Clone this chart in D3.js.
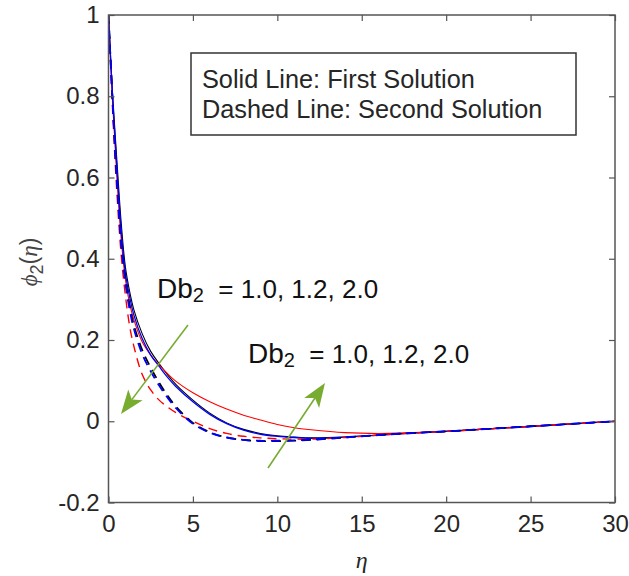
<!DOCTYPE html>
<html>
<head>
<meta charset="utf-8">
<script src="https://cdn.jsdelivr.net/npm/d3@7"></script>
<style>
  html, body { margin: 0; padding: 0; background: #fff; }
  svg { display: block; }
</style>
</head>
<body>
<svg id="chart" width="629" height="576"></svg>
<script>
// ---------- data ----------
const eta = [0, 0.25, 0.5, 0.75, 1, 1.25, 1.5, 2, 2.5, 3, 3.5, 4, 5, 6, 7, 8, 9, 10, 11, 12, 14, 16, 18, 20, 22, 24, 26, 28, 30];

// First solution (solid lines)
const solidDb10 = [1, 0.80, 0.64, 0.49, 0.38, 0.320, 0.275, 0.215, 0.172, 0.142, 0.114, 0.090, 0.052, 0.020, -0.004, -0.020, -0.030, -0.036, -0.039, -0.041, -0.039, -0.034, -0.029, -0.025, -0.020, -0.015, -0.010, -0.005, 0];
const solidDb12 = [1, 0.79, 0.62, 0.47, 0.365, 0.307, 0.262, 0.203, 0.163, 0.135, 0.108, 0.085, 0.048, 0.017, -0.006, -0.022, -0.032, -0.037, -0.040, -0.042, -0.039, -0.034, -0.029, -0.025, -0.020, -0.015, -0.010, -0.005, 0];
const solidDb20 = [1, 0.78, 0.60, 0.45, 0.350, 0.290, 0.250, 0.195, 0.163, 0.138, 0.117, 0.098, 0.070, 0.048, 0.030, 0.015, 0.003, -0.008, -0.016, -0.021, -0.028, -0.030, -0.028, -0.025, -0.020, -0.015, -0.010, -0.005, 0];

// Second solution (dashed lines)
const dashDb10 = [1, 0.78, 0.59, 0.44, 0.350, 0.285, 0.237, 0.175, 0.132, 0.095, 0.063, 0.036, -0.004, -0.027, -0.040, -0.046, -0.049, -0.049, -0.048, -0.046, -0.040, -0.034, -0.029, -0.025, -0.020, -0.015, -0.010, -0.005, 0];
const dashDb12 = [1, 0.78, 0.59, 0.44, 0.340, 0.275, 0.228, 0.165, 0.123, 0.088, 0.058, 0.032, -0.006, -0.028, -0.040, -0.046, -0.048, -0.048, -0.047, -0.045, -0.040, -0.034, -0.029, -0.025, -0.020, -0.015, -0.010, -0.005, 0];
const dashDb20 = [1, 0.76, 0.56, 0.41, 0.310, 0.235, 0.185, 0.115, 0.077, 0.052, 0.035, 0.021, 0.000, -0.018, -0.030, -0.037, -0.041, -0.043, -0.044, -0.044, -0.040, -0.034, -0.029, -0.025, -0.020, -0.015, -0.010, -0.005, 0];

const xTicks = [0, 5, 10, 15, 20, 25, 30];
const yTicks = [-0.2, 0, 0.2, 0.4, 0.6, 0.8, 1];
const yTickLabels = ["-0.2", "0", "0.2", "0.4", "0.6", "0.8", "1"];
const legendLines = ["Solid Line: First Solution", "Dashed Line: Second Solution"];
const annotationValues = "1.0, 1.2, 2.0";

// ---------- layout ----------
const svg = d3.select("#chart");
const pLeft = 108.5, pRight = 615, pTop = 15, pBottom = 502.5;
const x = d3.scaleLinear().domain([0, 30]).range([pLeft, pRight]);
const y = d3.scaleLinear().domain([-0.2, 1]).range([pBottom, pTop]);

const axisColor = "#555";
const textColor = "#262626";
const tickFont = "Liberation Sans, Arial, sans-serif";

// ---------- curves ----------
const series = [
  { v: solidDb10, color: "#000000", dash: null, w: 1.1 },
  { v: solidDb20, color: "#ff0000", dash: null, w: 1.1 },
  { v: solidDb12, color: "#0000ff", dash: null, w: 1.3 },
  { v: dashDb20, color: "#ff0000", dash: "9,6", w: 1.4 },
  { v: dashDb10, color: "#000000", dash: "9,6", w: 1.7 },
  { v: dashDb12, color: "#0000ff", dash: "9,6", w: 1.8 }
];
const line = d3.line().x((d, i) => x(eta[i])).y(d => y(d)).curve(d3.curveCatmullRom.alpha(0.5));

svg.append("clipPath").attr("id", "clip")
  .append("rect").attr("x", pLeft).attr("y", pTop).attr("width", pRight - pLeft).attr("height", pBottom - pTop);

const plot = svg.append("g").attr("clip-path", "url(#clip)");
series.forEach(s => {
  plot.append("path")
    .attr("d", line(s.v))
    .attr("fill", "none")
    .attr("stroke", s.color)
    .attr("stroke-width", s.w)
    .attr("stroke-dasharray", s.dash);
});

// ---------- axes ----------
const tickLen = 6;
const gx = svg.append("g").attr("transform", `translate(0,${pBottom})`)
  .call(d3.axisBottom(x).tickValues(xTicks).tickSize(-tickLen).tickPadding(12).tickFormat(d3.format("d")));
const gxTop = svg.append("g").attr("transform", `translate(0,${pTop})`)
  .call(d3.axisTop(x).tickValues(xTicks).tickSize(-tickLen).tickFormat(""));
const gy = svg.append("g").attr("transform", `translate(${pLeft},0)`)
  .call(d3.axisLeft(y).tickValues(yTicks).tickSize(-tickLen).tickPadding(9).tickFormat((d, i) => yTickLabels[i]));
const gyRight = svg.append("g").attr("transform", `translate(${pRight},0)`)
  .call(d3.axisRight(y).tickValues(yTicks).tickSize(-tickLen).tickFormat(""));

[gx, gxTop, gy, gyRight].forEach(g => {
  g.select(".domain").remove();
  g.selectAll(".tick line").attr("stroke", axisColor).attr("stroke-width", 1.2);
  g.selectAll(".tick text").attr("fill", textColor).attr("font-family", tickFont).attr("font-size", 24);
});
gx.selectAll(".tick text").attr("dy", "0.71em");

svg.append("rect")
  .attr("x", pLeft).attr("y", pTop).attr("width", pRight - pLeft).attr("height", pBottom - pTop)
  .attr("fill", "none").attr("stroke", axisColor).attr("stroke-width", 1.5);

// axis labels
svg.append("text")
  .attr("x", (pLeft + pRight) / 2).attr("y", 568)
  .attr("text-anchor", "middle")
  .attr("font-family", "Liberation Serif, Times New Roman, serif")
  .attr("font-style", "italic").attr("font-size", 24).attr("fill", textColor)
  .text("η");

const yl = svg.append("text")
  .attr("transform", "translate(37,262) rotate(-90)")
  .attr("text-anchor", "middle")
  .attr("font-family", "Liberation Sans, Arial, sans-serif")
  .attr("font-size", 23).attr("fill", "#444");
yl.append("tspan").attr("font-family", "Liberation Serif, serif").attr("font-style", "italic").text("ϕ");
yl.append("tspan").attr("font-size", 18).attr("dy", 6).text("2");
yl.append("tspan").attr("dy", -6).text("(");
yl.append("tspan").attr("font-family", "Liberation Serif, serif").attr("font-style", "italic").text("η");
yl.append("tspan").text(")");

// ---------- legend box ----------
svg.append("rect")
  .attr("x", 191).attr("y", 53).attr("width", 385).attr("height", 82)
  .attr("fill", "#fff").attr("stroke", "#333").attr("stroke-width", 1.5);
legendLines.forEach((t, i) => {
  svg.append("text")
    .attr("x", 202).attr("y", 87.5 + i * 30.5)
    .attr("font-family", tickFont).attr("font-size", 25.3).attr("fill", textColor)
    .text(t);
});

// ---------- annotations ----------
function annotation(xp, yp) {
  const t = svg.append("text").attr("x", xp).attr("y", yp)
    .attr("font-family", tickFont).attr("font-size", 26).attr("fill", "#111");
  t.append("tspan").attr("font-size", 28).text("Db");
  t.append("tspan").attr("font-size", 20).attr("dy", 4).text("2");
  t.append("tspan").attr("dy", -4).text("\u00A0\u00A0= " + annotationValues);
}
annotation(157, 298);
annotation(248, 363);

// ---------- arrows ----------
const green = "#77ac30";
function arrow(x1, y1, x2, y2) {
  const ang = Math.atan2(y2 - y1, x2 - x1);
  const L = 24, W = 9, back = 6;
  const bx = x2 - L * Math.cos(ang), by = y2 - L * Math.sin(ang);
  const nx = -Math.sin(ang), ny = Math.cos(ang);
  const ix = x2 - (L - back) * Math.cos(ang), iy = y2 - (L - back) * Math.sin(ang);
  svg.append("line").attr("x1", x1).attr("y1", y1).attr("x2", ix).attr("y2", iy)
    .attr("stroke", green).attr("stroke-width", 1.6);
  svg.append("path")
    .attr("d", `M${x2},${y2} L${bx + nx * W},${by + ny * W} L${ix},${iy} L${bx - nx * W},${by - ny * W} Z`)
    .attr("fill", green);
}
arrow(188, 325, 121, 414);
arrow(268, 468, 325, 383);
</script>
</body>
</html>
